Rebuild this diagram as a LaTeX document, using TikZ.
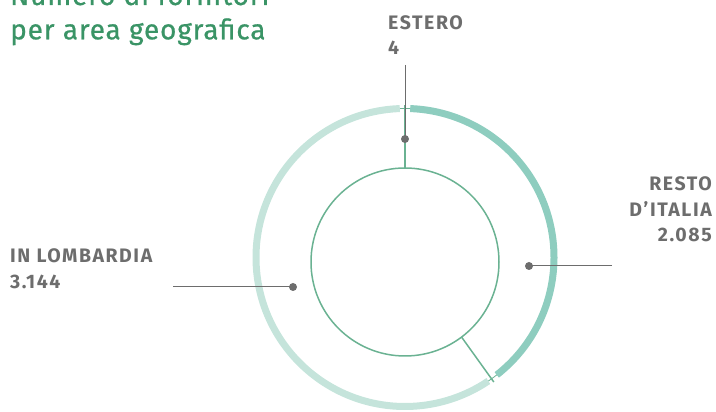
\documentclass[tikz,border=0pt]{standalone}
\usepackage{fontspec}
\setmainfont{Fira Sans}
\newfontfamily\labelfont[LetterSpace=8]{Fira Sans}
\newfontfamily\titlefont[LetterSpace=3,FakeBold=0.7]{Fira Sans}
\usepackage{tikz}

\definecolor{ringlight}{HTML}{C5E4DB}
\definecolor{ringdark}{HTML}{8ECDBF}
\definecolor{linegreen}{HTML}{6AB292}
\definecolor{labelgray}{HTML}{6D6D6D}
\definecolor{titlegreen}{HTML}{3A9466}

\tikzset{
  ringarc/.style={line width=7pt},
  thread/.style={linegreen, line width=1.5pt},
  leader/.style={labelgray, line width=1pt},
  dot/.style={circle, fill=labelgray, inner sep=0pt, minimum size=8pt},
  lbl/.style={labelgray, inner sep=0pt, align=#1,
    font=\labelfont\fontsize{19.5}{25.5}\bfseries\selectfont},
  ttl/.style={titlegreen, inner sep=0pt, anchor=base west,
    font=\titlefont\fontsize{28}{34}\selectfont}
}

\begin{document}
\begin{tikzpicture}[x=1pt,y=1pt]
    \useasboundingbox (0,0) rectangle (716,412);
    \coordinate (O) at (405,154.5);
    \coordinate (I) at (405,150);

    % title
    \node[ttl] (t1) at (10,407) {Numero di fornitori};
    \node[ttl] (t2) at (10,372.7) {per area geografica};

    % ring
    \draw[linegreen, line width=0.8pt] (O) circle (149);
    \draw[ringarc, ringlight] ([shift={(92:149)}]O) arc (92:304:149);
    \draw[ringarc, ringdark] ([shift={(-52:149)}]O) arc (-52:88:149);
    \draw[thread] (I) circle (94);

    % threads from inner circle to ring
    \coordinate (in1) at ([shift={(90:94)}]I);
    \coordinate (out1) at ([shift={(90:152)}]O);
    \coordinate (in2) at ([shift={(-53:94)}]I);
    \coordinate (out2) at ([shift={(-54.5:153)}]O);
    \draw[thread] (in1) -- (out1);
    \draw[thread] (in2) -- (out2);

    % labels
    \node[lbl=left, anchor=base west] (est) at (388,382.7) {ESTERO};
    \node[lbl=left, anchor=base west] (estv) at (388,357) {4};
    \node[lbl=right, anchor=base east] (res) at (712,170.3) {RESTO\\D’ITALIA\\2.085};
    \node[lbl=left, anchor=base west] (lom) at (10,123.7) {IN LOMBARDIA\\3.144};

    % leaders
    \node[dot] (d1) at (405,273) {};
    \node[dot] (d2) at (529,146) {};
    \node[dot] (d3) at (293,125) {};
    \coordinate (e1) at (405,347);
    \coordinate (e2) at (612,146);
    \coordinate (e3) at (173,125);
    \draw[leader] (e1) -- (d1.center);
    \draw[leader] (e2) -- (d2.center);
    \draw[leader] (e3) -- (d3.center);
\end{tikzpicture}
\end{document}
